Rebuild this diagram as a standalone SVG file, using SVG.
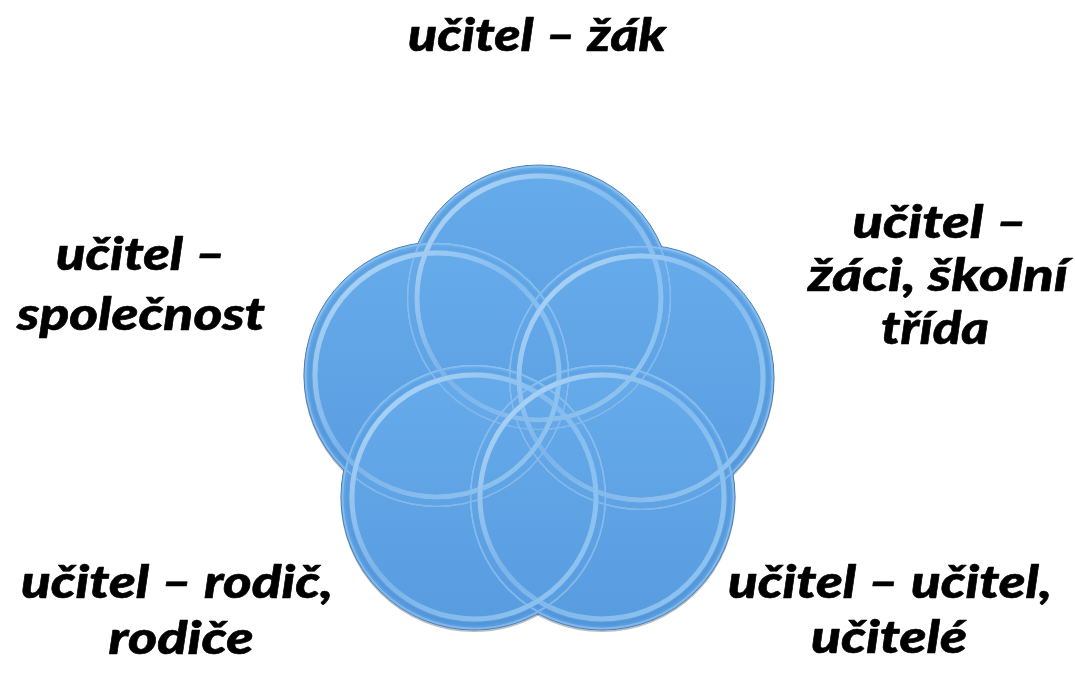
<svg xmlns="http://www.w3.org/2000/svg" width="1075" height="673" viewBox="0 0 1075 673">
  <defs>
    <!-- glossy blue disc fill -->
    <linearGradient id="discFill" x1="0" y1="0" x2="0" y2="1">
      <stop offset="0" stop-color="#66abea"/>
      <stop offset="1" stop-color="#589ce0"/>
    </linearGradient>
    <!-- inner bevel ring highlight, brighter on the lit side -->
    <linearGradient id="ringStroke" x1="0" y1="0" x2="1" y2="1">
      <stop offset="0" stop-color="#f2fbff" stop-opacity="0.6"/>
      <stop offset="0.45" stop-color="#dff1ff" stop-opacity="0.25"/>
      <stop offset="1" stop-color="#c8f0ff" stop-opacity="0.5"/>
    </linearGradient>
    <style>
      .venn { isolation: isolate; }
      .node { mix-blend-mode: lighten; }
      .disc { fill: url(#discFill); stroke: #4a7fb3; stroke-width: 1; }
      .shade { fill: none; stroke: #1d2b3a; stroke-opacity: 0.3; stroke-width: 2; }
      .rim { fill: none; stroke: #a9d2f3; stroke-opacity: 0.5; stroke-width: 2; }
      .band { fill: none; stroke: #2f6aa6; stroke-opacity: 0.12; stroke-width: 3; }
      .ring { fill: none; stroke: url(#ringStroke); stroke-width: 5; }
      .label { font-family: "Lato", "Open Sans", sans-serif; font-weight: 900; font-style: italic; font-size: 45px; fill: #000; stroke: #000; stroke-width: 0.6; stroke-linejoin: round; text-anchor: middle; }
    </style>
  </defs>

  <!-- five overlapping circles, blended so every bevel ring stays visible -->
  <g class="venn">
    <g id="circle-top" class="node" transform="translate(539,298)">
      <circle class="shade" r="132.5" cy="1.6"/>
      <circle class="disc" r="133"/>
      <circle class="rim" r="131.5"/>
      <circle class="band" r="127"/>
      <circle class="ring" r="122"/>
    </g>
    <g id="circle-right" class="node" transform="translate(641,378)">
      <circle class="shade" r="132.5" cy="1.6"/>
      <circle class="disc" r="133"/>
      <circle class="rim" r="131.5"/>
      <circle class="band" r="127"/>
      <circle class="ring" r="122"/>
    </g>
    <g id="circle-bottom-right" class="node" transform="translate(602,497)">
      <circle class="shade" r="132.5" cy="1.6"/>
      <circle class="disc" r="133"/>
      <circle class="rim" r="131.5"/>
      <circle class="band" r="127"/>
      <circle class="ring" r="122"/>
    </g>
    <g id="circle-bottom-left" class="node" transform="translate(474,497)">
      <circle class="shade" r="132.5" cy="1.6"/>
      <circle class="disc" r="133"/>
      <circle class="rim" r="131.5"/>
      <circle class="band" r="127"/>
      <circle class="ring" r="122"/>
    </g>
    <g id="circle-left" class="node" transform="translate(437,375)">
      <circle class="shade" r="132.5" cy="1.6"/>
      <circle class="disc" r="133"/>
      <circle class="rim" r="131.5"/>
      <circle class="band" r="127"/>
      <circle class="ring" r="122"/>
    </g>
  </g>

  <!-- no connectors in this diagram -->
  <g id="connectors"/>

  <!-- labels -->
  <g id="label-top">
    <text class="label" x="537" y="51" textLength="258" lengthAdjust="spacingAndGlyphs">učitel – žák</text>
  </g>
  <g id="label-left">
    <text class="label" x="141" y="270" textLength="170" lengthAdjust="spacingAndGlyphs">učitel –</text>
    <text class="label" x="141" y="330" textLength="248" lengthAdjust="spacingAndGlyphs">společnost</text>
  </g>
  <g id="label-right">
    <text class="label" x="940" y="238" textLength="175" lengthAdjust="spacingAndGlyphs">učitel –</text>
    <text class="label" x="938" y="291" textLength="260" lengthAdjust="spacingAndGlyphs">žáci, školní</text>
    <text class="label" x="935" y="344" textLength="108" lengthAdjust="spacingAndGlyphs">třída</text>
  </g>
  <g id="label-bottom-left">
    <text class="label" x="177" y="598" textLength="312" lengthAdjust="spacingAndGlyphs">učitel – rodič,</text>
    <text class="label" x="181" y="654" textLength="145" lengthAdjust="spacingAndGlyphs">rodiče</text>
  </g>
  <g id="label-bottom-right">
    <text class="label" x="890" y="598" textLength="324" lengthAdjust="spacingAndGlyphs">učitel – učitel,</text>
    <text class="label" x="889" y="653" textLength="156" lengthAdjust="spacingAndGlyphs">učitelé</text>
  </g>
</svg>
